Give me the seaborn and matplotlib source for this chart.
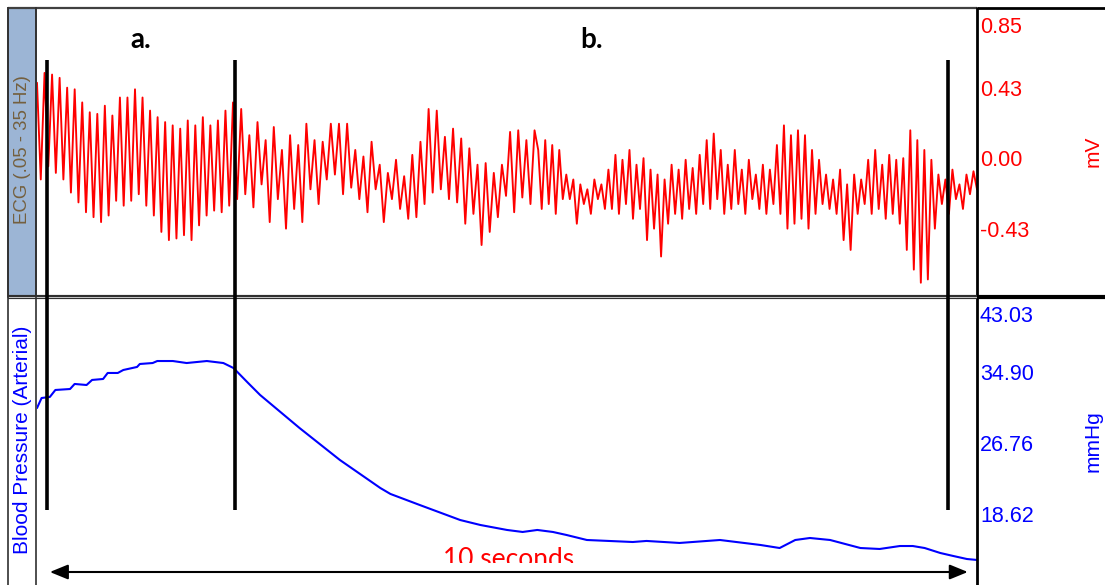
import numpy as np
import pandas as pd
import matplotlib
matplotlib.use("Agg")
import matplotlib.pyplot as plt
import seaborn as sns
from matplotlib.lines import Line2D
from matplotlib.patches import Rectangle
from matplotlib.transforms import (blended_transform_factory, ScaledTranslation,
                                   Bbox, TransformedBbox)
from matplotlib import font_manager

# ---------------- data ----------------
# ECG (mV): alternating peaks / troughs, three consecutive stretches of the trace
ecg_seg_a = [0.41, -0.18, 0.47, -0.10, 0.46, -0.14, 0.44, -0.18, 0.38, -0.26,
             0.37, -0.32, 0.29, -0.38, 0.23, -0.41, 0.22, -0.44, 0.27, -0.40,
             0.21, -0.31, 0.32, -0.34, 0.32, -0.31, 0.37, -0.27, 0.32, -0.34,
             0.24, -0.40, 0.20, -0.50, 0.17, -0.55, 0.15, -0.54, 0.13, -0.52,
             0.18, -0.55, 0.15, -0.46, 0.20, -0.40, 0.15, -0.37, 0.18, -0.38,
             0.24, -0.34, 0.29]
ecg_seg_b1 = [-0.30, 0.25, -0.27, 0.09, -0.35, 0.17, -0.21, 0.06, -0.44, 0.14,
              -0.30, 0.00, -0.48, 0.09, -0.36, 0.03, -0.44, 0.16, -0.24, 0.06,
              -0.33, 0.05, -0.18, 0.16, -0.15, 0.16, -0.27, 0.16, -0.23, 0.00,
              -0.30, -0.04, -0.38, 0.05, -0.24, -0.09, -0.44, -0.14, -0.30, -0.06,
              -0.36, -0.16, -0.42, -0.03, -0.41, 0.05, -0.33, 0.25, -0.26, 0.24,
              -0.24, 0.08, -0.30, 0.13, -0.32, 0.07, -0.45, 0.01, -0.39, -0.09,
              -0.58, -0.08, -0.50, -0.14, -0.41, -0.09, -0.28, 0.11, -0.38, 0.12,
              -0.29, 0.06, -0.33, 0.12]
ecg_seg_b2 = [0.00, -0.36, 0.06, -0.33, 0.03, -0.39, 0.00, -0.30,
              -0.15, -0.30, -0.18, -0.45, -0.21, -0.33, -0.24, -0.39, -0.18, -0.30, -0.21, -0.36,
              -0.12, -0.36, -0.03, -0.39, -0.06, -0.33, 0.00, -0.42, -0.09, -0.36, -0.05, -0.55,
              -0.12, -0.48, -0.15, -0.65, -0.18, -0.45, -0.09, -0.39, -0.12, -0.42, -0.06, -0.36,
              -0.11, -0.39, -0.03, -0.33,
              0.06, -0.36, 0.10, -0.30, 0.00, -0.39,
              -0.09, -0.36, 0.00, -0.33, -0.12, -0.39, -0.06, -0.30, -0.15, -0.36, -0.09, -0.39,
              -0.12, -0.33,
              0.03, -0.39, 0.15, -0.48, 0.09, -0.45, 0.12, -0.42, 0.09, -0.48, 0.00, -0.39,
              -0.06, -0.33,
              -0.15, -0.36, -0.18, -0.39, -0.12, -0.55, -0.21, -0.61, -0.15, -0.39, -0.18, -0.33,
              -0.06, -0.39, 0.00, -0.36, -0.09, -0.42, -0.03, -0.39, -0.06, -0.45,
              -0.05, -0.61, 0.12, -0.73, 0.06, -0.81, 0.00, -0.79, -0.06, -0.48,
              -0.15, -0.33, -0.18, -0.39, -0.12, -0.30, -0.21, -0.36, -0.15, -0.27, -0.13, -0.24]
ecg_seg_spans = [(0.0, 2.135), (2.18, 5.42), (5.46, 10.24)]   # seconds

# Arterial blood pressure (mmHg)
bp_time = [0.00, 0.05, 0.14, 0.20, 0.36, 0.41, 0.54, 0.60, 0.72, 0.77, 0.88, 0.94,
           1.09, 1.12, 1.26, 1.31, 1.48, 1.63, 1.85, 2.03, 2.14, 2.30, 2.43, 2.86,
           3.30, 3.74, 3.85, 4.17, 4.61, 4.83, 5.12, 5.29, 5.45, 5.62, 5.77, 5.99,
           6.49, 6.64, 7.00, 7.44, 7.88, 8.09, 8.26, 8.42, 8.64, 8.97, 9.18, 9.40,
           9.54, 9.67, 9.84, 9.98, 10.13, 10.24]
bp_mmhg = [30.08, 31.23, 31.35, 32.15, 32.26, 32.84, 32.72, 33.30, 33.41, 34.10, 34.10, 34.44,
           34.79, 35.13, 35.24, 35.47, 35.47, 35.24, 35.47, 35.24, 34.67, 32.95, 31.58, 27.79,
           24.12, 20.91, 20.23, 18.96, 17.24, 16.67, 16.10, 15.87, 16.10, 15.87, 15.52, 14.95,
           14.72, 14.84, 14.61, 14.95, 14.38, 14.03, 14.95, 15.18, 14.95, 14.03, 13.92, 14.26,
           14.26, 14.03, 13.46, 13.12, 12.77, 12.66]

ecg_ticks = [0.85, 0.43, 0.00, -0.43]
bp_ticks = [43.03, 34.90, 26.76, 18.62]
ecg_title = "ECG (.05 - 35 Hz)"
bp_title = "Blood Pressure (Arterial)"
ecg_unit = "mV"
bp_unit = "mmHg"
marker_times = [0.109, 2.157, 9.924]
phase_labels = ["a.", "b."]
span_label = "10 seconds"
span_start, span_end = 0.14, 10.14

# ---------------- build frames ----------------
ecg_t, ecg_v = [], []
for seg, (t0, t1) in zip([ecg_seg_a, ecg_seg_b1, ecg_seg_b2], ecg_seg_spans):
    ecg_t.extend(np.linspace(t0, t1, len(seg)))
    ecg_v.extend(seg)
df_ecg = pd.DataFrame({"t": ecg_t, "mV": ecg_v})
df_bp = pd.DataFrame({"t": bp_time, "mmHg": bp_mmhg})

# ---------------- style ----------------
sns.set_theme(style="white")
plt.rcParams["font.family"] = ["Liberation Sans", "DejaVu Sans"]

installed = {f.name for f in font_manager.fontManager.ttflist}
if "Liberation Sans Narrow" in installed:
    ecg_title_font, ecg_title_size = ["Liberation Sans Narrow"], 15.5
else:
    ecg_title_font, ecg_title_size = ["Liberation Sans"], 13.4

W, H = 1105, 585
fig = plt.figure(figsize=(W / 100, H / 100), dpi=100)
fig.patch.set_facecolor("white")

def fx(x):
    return x / W

def fy(y):
    return 1 - y / H

ax_top = fig.add_axes([fx(37), fy(297), (977 - 37) / W, (297 - 8) / H])
ax_bot = fig.add_axes([fx(37), 0.0, (977 - 37) / W, (585 - 297) / H])

sns.lineplot(data=df_ecg, x="t", y="mV", ax=ax_top, color="#ff0000",
             linewidth=1.35, sort=False, estimator=None)
sns.lineplot(data=df_bp, x="t", y="mmHg", ax=ax_bot, color="#0000ff",
             linewidth=1.5, sort=False, estimator=None)

ax_top.set_ylim(-0.897, 0.866)
ax_bot.set_ylim(9.79, 42.81)
for ax in (ax_top, ax_bot):
    ax.set_xlim(0, 10.24)
    ax.set_xticks([])
    ax.set_yticks([])
    ax.set_xlabel("")
    ax.set_ylabel("")
    for s in ax.spines.values():
        s.set_visible(False)

# right-hand value labels
def right_labels(ax, ticks, color, dy):
    lo, hi = ax.get_ylim()
    for v in ticks:
        txt = f"{v:.2f}"
        if v > hi - (hi - lo) * 0.02:
            tr = blended_transform_factory(ax.transAxes, ax.transAxes) + \
                ScaledTranslation(0.03, -0.09, fig.dpi_scale_trans)
            ax.text(1.0, 1.0, txt, transform=tr, ha="left", va="top",
                    color=color, fontsize=15.5, clip_on=False)
        else:
            tr = blended_transform_factory(ax.transAxes, ax.transData) + \
                ScaledTranslation(0.03, dy, fig.dpi_scale_trans)
            ax.text(1.0, v, txt, transform=tr, ha="left", va="top",
                    color=color, fontsize=15.5, clip_on=False)

right_labels(ax_top, ecg_ticks, "#ff0000", -0.005)
right_labels(ax_bot, bp_ticks, "#0000ff", 0.015)

fig.text(fx(1093), fy(151), ecg_unit, rotation=90, ha="center", va="center",
         color="#ff0000", fontsize=15)
fig.text(fx(1093), fy(441), bp_unit, rotation=90, ha="center", va="center",
         color="#0000ff", fontsize=15)

# left title strips
fig.add_artist(Rectangle((fx(8), fy(297)), fx(36) - fx(8), fy(7.5) - fy(297),
                         transform=fig.transFigure, facecolor="#9cb5d5",
                         edgecolor="#303030", lw=1.2, zorder=1))
fig.text(fx(23), fy(150), ecg_title, rotation=90, ha="center", va="center",
         color="#74603f", fontsize=ecg_title_size, family=ecg_title_font)
fig.text(fx(22.5), fy(440), bp_title, rotation=90, ha="center", va="center",
         color="#0000ff", fontsize=15)

# frame lines
def fline(x0, y0, x1, y1, color, lw, z=3):
    fig.add_artist(Line2D([fx(x0), fx(x1)], [fy(y0), fy(y1)], transform=fig.transFigure,
                          color=color, lw=lw, zorder=z, solid_capstyle="butt"))

fline(8, 7.5, 977, 7.5, "#404040", 1.6)
fline(977, 7.5, 1105, 7.5, "black", 2.0)
fline(977, 7, 977, 585, "black", 2.0)
fline(8, 297, 977, 297, "#303030", 3.0)
fline(8, 297, 977, 297, "#c8c8c8", 0.7)
fline(977, 297, 1105, 297, "black", 3.0)
fline(8, 7, 8, 585, "#303030", 1.2)
fline(36, 7, 36, 585, "#303030", 1.2)

# phase marker lines
blend = blended_transform_factory(ax_top.transData, fig.transFigure)
for t in marker_times:
    fig.add_artist(Line2D([t, t], [fy(60), fy(510)], transform=blend, color="black",
                          lw=2.6, zorder=5, solid_capstyle="butt"))

for i, lab in enumerate(phase_labels):
    xm = (marker_times[i] + marker_times[i + 1]) / 2
    fig.text(xm, fy(48), lab, transform=blend, ha="center", va="baseline",
             fontsize=20, fontweight="bold", family=["Lato", "DejaVu Sans"], color="black")

# 10 second span arrow
ax_bot.annotate("", xy=(span_end, fy(572)), xytext=(span_start, fy(572)),
                xycoords=blend, textcoords=blend, annotation_clip=False,
                arrowprops=dict(arrowstyle="<|-|>,head_length=1.1,head_width=0.45",
                                color="black", lw=1.5, shrinkA=0, shrinkB=0,
                                mutation_scale=10))
t10 = ax_bot.text((span_start + span_end) / 2, fy(567), span_label, transform=blend,
                  ha="center", va="baseline", color="#ff0000", fontsize=19,
                  family=["Lato", "DejaVu Sans"])
t10.set_clip_box(TransformedBbox(Bbox([[0, fy(563)], [1, 1]]), fig.transFigure))
t10.set_clip_on(True)

fig.savefig("out.png", dpi=100)
